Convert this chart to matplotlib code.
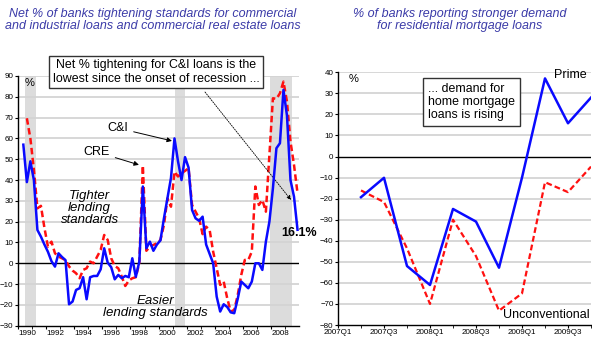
import matplotlib.pyplot as plt
import numpy as np

# --- left chart: net % of banks tightening (quarterly, 1990Q2..2009Q4)
years = 1990.38 + 0.25 * np.arange(79)
cni = [57, 39, 49, 40, 16, 12.8, 9, 5.5, 1, -1.6, 4.8, 3, 1.5, -19.7, -18.4,
       -12.8, -12, -6.7, -17.3, -6.7, -6.1, -6.1, -2.9, 7.2, 0.3, -1.9, -7.7,
       -5.6, -7.2, -6.1, -6.7, 2.4, -6.5, 0.8, 36.9, 7.2, 10.4, 6, 9, 11,
       21.6, 31.3, 41, 60, 49, 40, 51, 46, 25.6, 21.6, 20.4, 22.4, 9, 4.5, 0,
       -16, -23.2, -19.7, -21, -23.6, -24, -17, -8.8, -10.4, -12, -8.8, 0, 0,
       -3.2, 10.4, 20, 36, 55.3, 57.7, 83.3, 71, 40, 32, 16.1]
cre = [np.nan, 69.7, 60, 45, 26.4, 27.6, 17, 8, 10.4, 4.8, 3.2, 2.4, 1.5,
       -1.5, -3.5, -4.8, -7.2, -3.2, -2.4, 0.8, 0, 3.2, 6.4, 13.6, 11.2, 2.4,
       -1.3, -2.4, -6.4, -10.9, -8.3, -7.2, -6.7, 0.3, 47, 6, 8, 8.8, 9.6,
       11.2, 18.4, 31.2, 27.2, 44, 41.7, 43.3, 44.4, 45.7, 28, 24.8, 21.6, 14,
       17.6, 16, 5.6, -2.4, -10.4, -8.8, -16.8, -23.2, -22.4, -15.2, -5.6,
       1.6, 1.6, 5.6, 36.9, 28, 30.4, 24.8, 52, 79.3, 79, 81.7, 87.3, 77.7,
       58.5, 47.3, 33.7]
recessions = [(1990.5, 1991.25), (2001.17, 2001.9), (2007.92, 2009.5)]

# --- right chart: % reporting stronger demand (2007Q2..2009Q4)
quarters = ['2007Q1', '2007Q2', '2007Q3', '2007Q4', '2008Q1', '2008Q2',
            '2008Q3', '2008Q4', '2009Q1', '2009Q2', '2009Q3', '2009Q4']
prime = [-19.3, -10.1, -52, -61, -24.9, -30.9, -52.8, -10, 37.1, 15.8, 28]
unconv = [-16.1, -21.6, -43.6, -70, -30, -47.3, -73.2, -65, -12.2, -16.9, -4.8]

plt.rcParams['font.family'] = ['Liberation Sans', 'DejaVu Sans']
title_col = '#3b3ba8'
blue = '#0a0aff'
red = '#ff1010'
dash = (0, (2.6, 1.4))

fig = plt.figure(figsize=(5.92, 3.41), dpi=100)
W, H = 592, 341


def box(l, r, t, b):
    return [l / W, 1 - b / H, (r - l) / W, (b - t) / H]


def style(ax, ymin, ymax):
    for s in ['top', 'right']:
        ax.spines[s].set_visible(False)
    ax.spines['left'].set_linewidth(1.0)
    ax.spines['bottom'].set_linewidth(1.0)
    ax.set_ylim(ymin, ymax)
    ax.set_yticks(np.arange(ymin, ymax + 1, 10))
    for v in np.arange(ymin + 10, ymax + 1, 10):
        if v != 0:
            ax.axhline(v, color='#d4d4d4', lw=1.3, zorder=0)
    ax.axhline(0, color='black', lw=1.0, zorder=1)
    ax.tick_params(axis='both', labelsize=5.8, length=2, width=0.8, pad=1.2)
    ax.tick_params(axis='x', which='minor', length=2, width=0.6)


# left panel
ax1 = fig.add_axes(box(18, 299.2, 76, 325.7))
for a, b in recessions:
    ax1.axvspan(a, b, color='#dcdcdc', lw=0, zorder=0)
style(ax1, -30, 90)
ax1.set_xlim(1990, 2010)
ax1.set_xticks(np.arange(1990, 2009, 2))
ax1.set_xticks(np.arange(1990, 2010, 1), minor=True)
for lab in ax1.get_xticklabels():
    lab.set_horizontalalignment('left')
ax1.plot(years, cre, color=red, lw=1.8, ls=dash, zorder=3)
ax1.plot(years, cni, color=blue, lw=1.8, zorder=4)

ax1.text(1990.45, 89, '%', fontsize=8, ha='left', va='top')
ax1.annotate('C&I', xy=(2000.95, 58.8), xytext=(1997.1, 65), fontsize=9,
             ha='center', va='center',
             arrowprops=dict(arrowstyle='-|>', lw=0.7, color='black',
                             mutation_scale=7, shrinkA=2, shrinkB=0))
ax1.annotate('CRE', xy=(1998.6, 47.3), xytext=(1995.6, 53.5), fontsize=9,
             ha='center', va='center',
             arrowprops=dict(arrowstyle='-|>', lw=0.7, color='black',
                             mutation_scale=7, shrinkA=2, shrinkB=0))
ax1.text(1995.1, 26.6, 'Tighter\nlending\nstandards', fontsize=9.5,
         style='italic', ha='center', va='center', linespacing=1.0)
ax1.text(1999.75, -21, 'Easier\nlending standards', fontsize=9.5,
         style='italic', ha='center', va='center', linespacing=1.0)
ax1.annotate('', xy=(2009.42, 30.4), xytext=(2003.3, 82.3),
             arrowprops=dict(arrowstyle='-|>', lw=0.6, color='black',
                             ls=(0, (1.5, 1.5)), mutation_scale=6,
                             shrinkA=0, shrinkB=0), annotation_clip=False)
fig.text(299 / W, 1 - 233 / H, '16.1%', fontsize=9, fontweight='bold',
         ha='center', va='center')

# right panel
ax2 = fig.add_axes(box(338, 591, 72.3, 325))
style(ax2, -80, 40)
ax2.set_xlim(0, 11)
ax2.set_xticks(np.arange(0, 12, 2))
ax2.set_xticklabels(quarters[::2])
ax2.set_xticks(np.arange(0, 12, 1), minor=True)
qx = np.arange(1, 12)
ax2.plot(qx, unconv, color=red, lw=1.6, ls=dash, zorder=3)
ax2.plot(qx, prime, color=blue, lw=1.8, zorder=4)
ax2.text(0.45, 39, '%', fontsize=8, ha='left', va='top')
fig.text(587 / W, 1 - 75 / H, 'Prime', fontsize=9, ha='right', va='center')
fig.text(590 / W, 1 - 315 / H, 'Unconventional', fontsize=9, ha='right',
         va='center')

# titles and boxes
fig.text(153 / W, 1 - 20 / H,
         'Net % of banks tightening standards for commercial\n'
         'and industrial loans and commercial real estate loans',
         fontsize=9, style='italic', color=title_col, ha='center',
         va='center', linespacing=1.05)
fig.text(460 / W, 1 - 20 / H,
         '% of banks reporting stronger demand\nfor residential mortgage loans',
         fontsize=9, style='italic', color=title_col, ha='center',
         va='center', linespacing=1.05)
fig.text(156 / W, 1 - 72 / H,
         'Net % tightening for C&I loans is the\n'
         'lowest since the onset of recession ...',
         fontsize=8.9, ha='center', va='center', linespacing=1.15,
         bbox=dict(boxstyle='square,pad=0.3', fc='white', ec='#333333',
                   lw=1.0))
fig.text(428 / W, 1 - 102 / H,
         '... demand for\nhome mortgage\nloans is rising',
         fontsize=8.9, ha='left', va='center', linespacing=1.1,
         bbox=dict(boxstyle='square,pad=0.4', fc='white', ec='#333333',
                   lw=1.0))

fig.savefig('out.png', dpi=100)
